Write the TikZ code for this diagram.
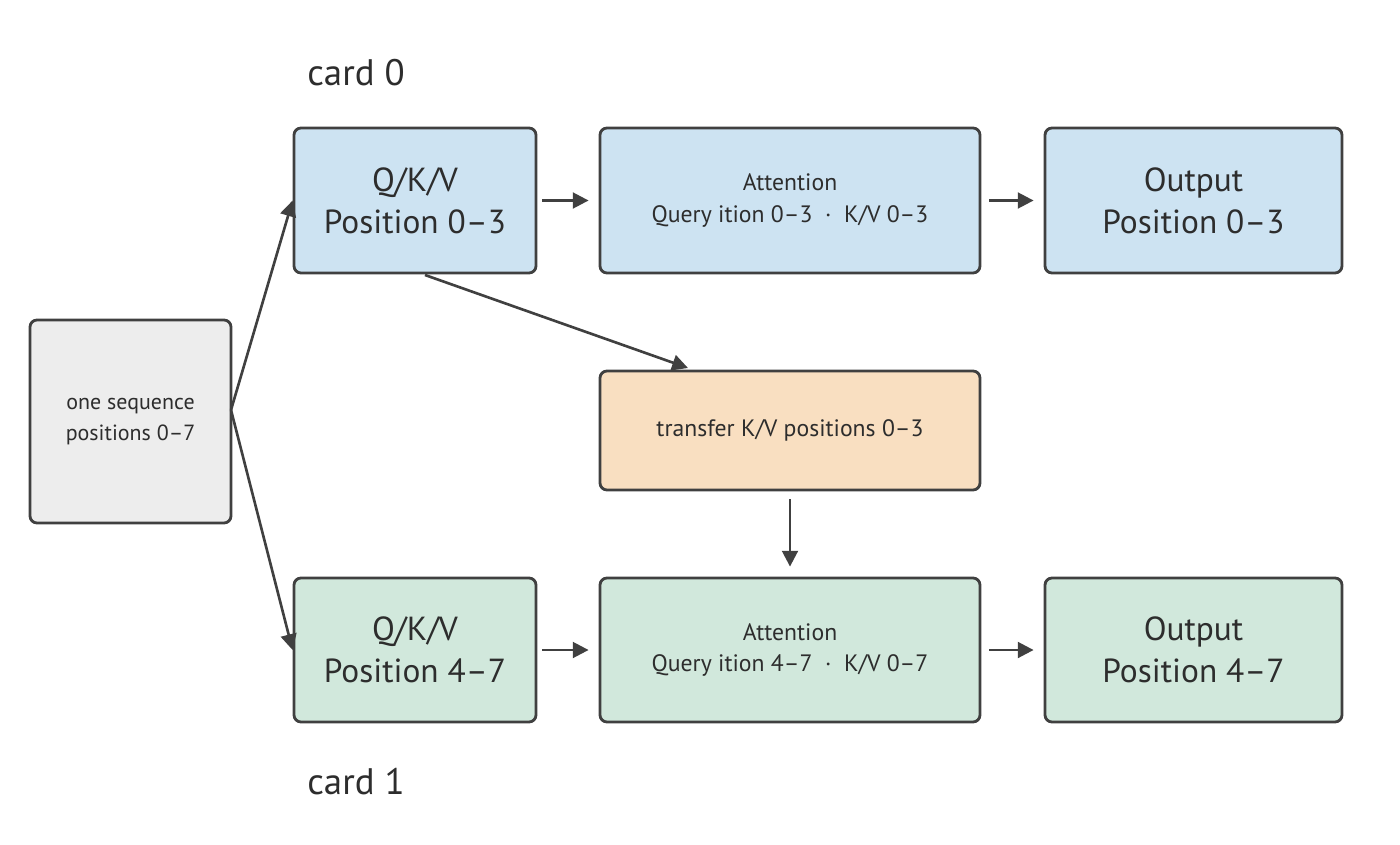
\documentclass[tikz,border=0pt]{standalone}
\usepackage{fontspec}
\setmainfont{PT Sans}
\usetikzlibrary{arrows.meta}
\definecolor{bd}{HTML}{404040}
\definecolor{bl}{HTML}{CDE3F2}
\definecolor{gr}{HTML}{D1E8DC}
\definecolor{gy}{HTML}{EDEDED}
\definecolor{or}{HTML}{F9DFC1}
\begin{document}
\begin{tikzpicture}[x=0.02cm,y=-0.02cm,
 box/.style={draw=bd,line width=1.6pt,rounded corners=4pt,align=center,inner sep=0pt,text=bd!70!black},
 arr/.style={draw=bd,line width=1.5pt,-{Triangle[length=9pt,width=9pt]}},
 big/.style={font=\fontsize{19}{24}\selectfont},
 mid/.style={font=\fontsize{13.5}{18}\selectfont},
 sm/.style={font=\fontsize{12.5}{18}\selectfont}]
\useasboundingbox (0,0) rectangle (1400,845);
\node[box,fill=gy,sm,minimum width=201*0.02cm,minimum height=203*0.02cm] (seq) at (130.5,421.5) {one sequence\\positions 0--7};
\node[box,fill=bl,big,minimum width=242*0.02cm,minimum height=145*0.02cm] (q0) at (415,200.5) {Q/K/V\\Position 0--3};
\node[box,fill=bl,mid,minimum width=380*0.02cm,minimum height=145*0.02cm] (a0) at (790,200.5) {Attention\\Query ition 0--3\ \ ·\ \ K/V 0--3};
\node[box,fill=bl,big,minimum width=297*0.02cm,minimum height=145*0.02cm] (o0) at (1193.5,200.5) {Output\\Position 0--3};
\node[box,fill=or,mid,minimum width=380*0.02cm,minimum height=119*0.02cm] (tr) at (790,430.5) {transfer K/V positions 0--3};
\node[box,fill=gr,big,minimum width=242*0.02cm,minimum height=144*0.02cm] (q1) at (415,650) {Q/K/V\\Position 4--7};
\node[box,fill=gr,mid,minimum width=380*0.02cm,minimum height=144*0.02cm] (a1) at (790,650) {Attention\\Query ition 4--7\ \ ·\ \ K/V 0--7};
\node[box,fill=gr,big,minimum width=297*0.02cm,minimum height=144*0.02cm] (o1) at (1193.5,650) {Output\\Position 4--7};
\node[font=\fontsize{21}{24}\selectfont,text=bd!70!black] (c0) at (356,73) {card 0};
\node[font=\fontsize{21}{24}\selectfont,text=bd!70!black] (c1) at (356,782) {card 1};
\coordinate (sr) at (231,410);
\draw[arr] (sr) -- (q0.west);
\draw[arr] (sr) -- (q1.west);
\draw[arr] ([xshift=5*0.02cm]q0.east) -- ([xshift=-10*0.02cm]a0.west);
\draw[arr] ([xshift=8*0.02cm]a0.east) -- ([xshift=-10*0.02cm]o0.west);
\draw[arr] ([xshift=5*0.02cm]q1.east) -- ([xshift=-10*0.02cm]a1.west);
\draw[arr] ([xshift=8*0.02cm]a1.east) -- ([xshift=-10*0.02cm]o1.west);
\coordinate (qb) at (425,275);
\coordinate (tt) at (688,368);
\draw[arr] (qb) -- (tt);
\draw[arr] ([yshift=-8*0.02cm]tr.south) -- ([yshift=10*0.02cm]a1.north);
\end{tikzpicture}
\end{document}
